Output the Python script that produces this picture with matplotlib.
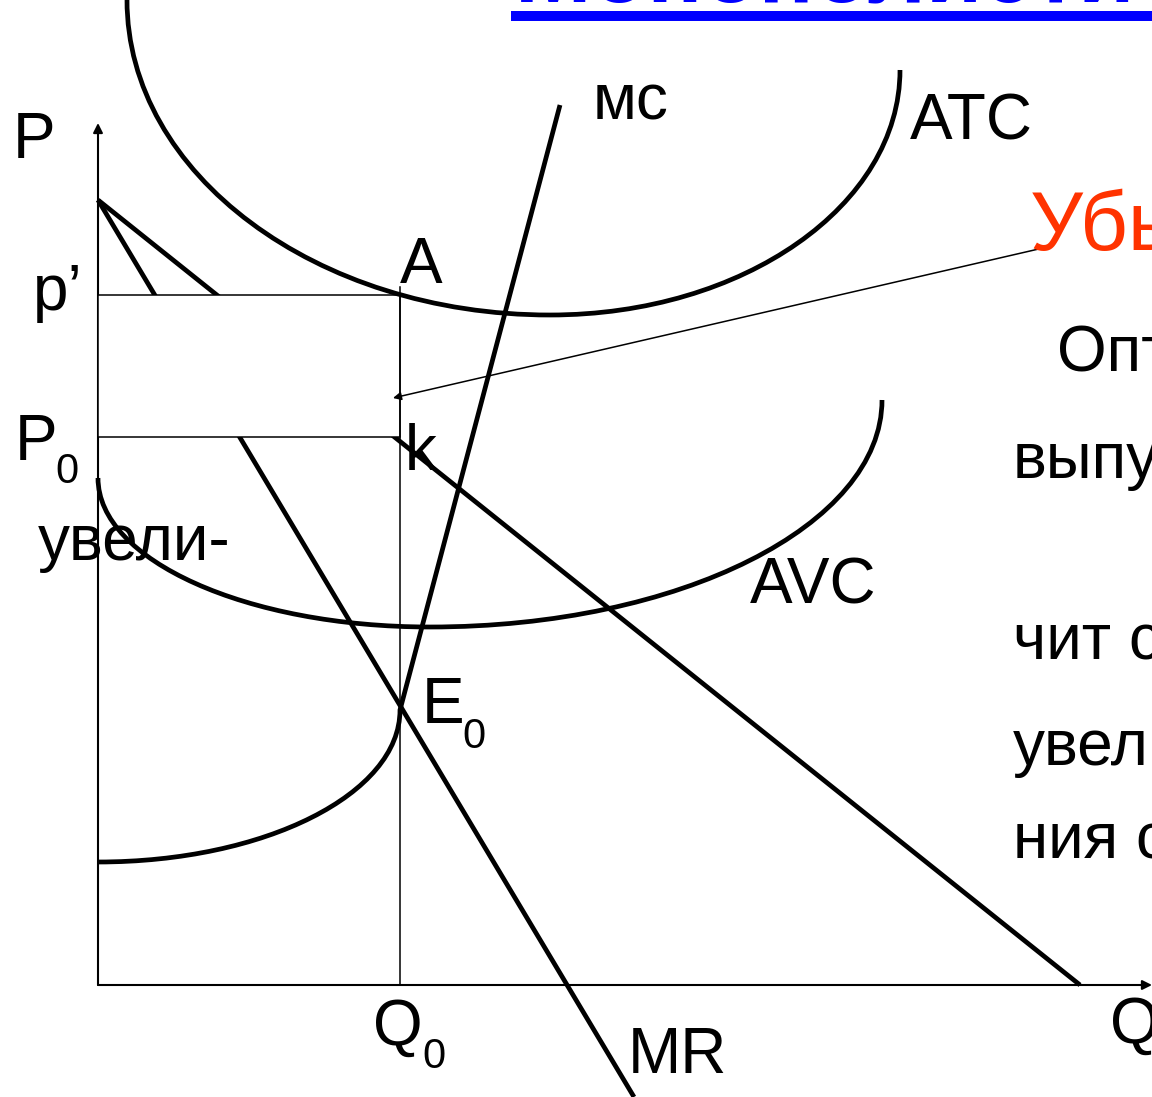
import matplotlib
matplotlib.use("Agg")
import matplotlib.pyplot as plt
from matplotlib.path import Path
from matplotlib.patches import PathPatch, Rectangle

plt.rcParams['font.family'] = ['Liberation Sans', 'DejaVu Sans']

# coordinates: Q to the right, P upward, origin at the axes corner
q0 = 302
p0 = 548
p_high = 690

demand = [(0, 785), (982, 0)]
mr = [(0, 785), (536, -112)]
mc_line = [(302, 275), (462, 880)]
mc_arc_start = (0, 123)        # MC lower part, flat at the left
atc_left = (29, 985)
atc_min = (452, 670)
atc_right = (802, 915)
avc_left = (0, 507)
avc_min = (332, 358)
avc_right = (784, 585)
loss_arrow = [(945, 737), (295, 587)]

labels = [
    ("P", 13 - 98, 985 - 158, 46, "black"),
    ("p\u2019", 33 - 98, 985 - 310, 46, "black"),
    ("P", 15 - 98, 985 - 460, 46, "black"),
    ("A", 400 - 98, 985 - 283, 46, "black"),
    ("k", 405 - 98, 985 - 470, 46, "black"),
    ("E", 422 - 98, 985 - 723, 46, "black"),
    ("Q", 373 - 98, 985 - 1045, 46, "black"),
    ("MR", 628 - 98, 985 - 1073, 46, "black"),
    ("Q", 1110 - 98, 985 - 1043, 46, "black"),
    ("мс", 593 - 98, 985 - 120, 46, "black"),
    ("ATC", 910 - 98, 985 - 140, 46, "black"),
    ("AVC", 750 - 98, 985 - 603, 46, "black"),
    ("увели-", 38 - 98, 985 - 560, 46, "black"),
    ("Убыток", 1030 - 98, 985 - 250, 60, "#ff3300"),
    ("Оптимальный", 1057 - 98, 985 - 372, 46, "black"),
    ("выпуск", 1013 - 98, 985 - 478, 46, "black"),
    ("чит снижение", 1013 - 98, 985 - 660, 46, "black"),
    ("увеличе-", 1013 - 98, 985 - 765, 46, "black"),
    ("ния спроса", 1013 - 98, 985 - 858, 46, "black"),
]
subscripts = [
    ("0", 55 - 98, 985 - 483),
    ("0", 462 - 98, 985 - 748),
    ("0", 422 - 98, 985 - 1068),
]
title = "Монополистическая конкуренция"

K = 0.5523


def quarter(start, end, vertical_first):
    # cubic bezier approximating a quarter ellipse
    (x0, y0), (x1, y1) = start, end
    if vertical_first:
        c1 = (x0, y0 + K * (y1 - y0))
        c2 = (x1 + K * (x0 - x1), y1)
    else:
        c1 = (x0 + K * (x1 - x0), y0)
        c2 = (x1, y1 + K * (y0 - y1))
    return [start, c1, c2, end]


def u_curve(left, bottom, right):
    a = quarter(left, bottom, True)
    b = quarter(right, bottom, True)[::-1]
    verts = a + b[1:]
    codes = [Path.MOVETO] + [Path.CURVE4] * 6
    return Path(verts, codes)


fig = plt.figure(figsize=(11.52, 10.97), dpi=100)
ax = fig.add_axes([0, 0, 1, 1])
ax.set_xlim(-98, 1054)
ax.set_ylim(-112, 985)
ax.axis("off")

lw = 3.4
# axes
ax.annotate("", xy=(0, 862), xytext=(0, 0),
            arrowprops=dict(arrowstyle="-|>", lw=1.5, color="black",
                            mutation_scale=14, shrinkA=0, shrinkB=0))
ax.annotate("", xy=(1054, 0), xytext=(0, 0),
            arrowprops=dict(arrowstyle="-|>", lw=1.5, color="black",
                            mutation_scale=14, shrinkA=0, shrinkB=0))

# demand and MR
ax.plot(*zip(*demand), color="black", lw=lw, solid_capstyle="butt", zorder=2)
ax.plot(*zip(*mr), color="black", lw=lw, solid_capstyle="butt", zorder=2)

# white box between p' and P0 hides the lines
ax.add_patch(Rectangle((0, p0), q0, p_high - p0, facecolor="white",
                       edgecolor="black", lw=1.1, zorder=3))
ax.plot([q0, q0], [0, p_high + 8], color="black", lw=1.1, zorder=4)

# MC
mc_path = Path(quarter(mc_arc_start, mc_line[0], False) + [mc_line[1]],
               [Path.MOVETO] + [Path.CURVE4] * 3 + [Path.LINETO])
ax.add_patch(PathPatch(mc_path, fill=False, lw=lw, color="black", zorder=4))

# ATC, AVC
ax.add_patch(PathPatch(u_curve(atc_left, atc_min, atc_right), fill=False, lw=lw, color="black", zorder=4))
ax.add_patch(PathPatch(u_curve(avc_left, avc_min, avc_right), fill=False, lw=lw, color="black", zorder=4))

# arrow from the loss label
ax.annotate("", xy=loss_arrow[1], xytext=loss_arrow[0],
            arrowprops=dict(arrowstyle="-|>", lw=1.1, color="black",
                            mutation_scale=12, shrinkA=0, shrinkB=0), zorder=5)

for txt, x, y, size, col in labels:
    ax.text(x, y, txt, fontsize=size, color=col, ha="left", va="baseline", zorder=6)
for txt, x, y in subscripts:
    ax.text(x, y, txt, fontsize=30, ha="left", va="baseline", zorder=6)

# title, mostly outside the top edge
ax.text(515 - 98, 985 - 2, title, fontsize=66, fontweight="bold", color="#0000ff",
        ha="left", va="baseline")
ax.plot([511 - 98, 1054], [985 - 16, 985 - 16], color="#0000ff", lw=7.2, solid_capstyle="butt")

fig.savefig("out.png", dpi=100)
